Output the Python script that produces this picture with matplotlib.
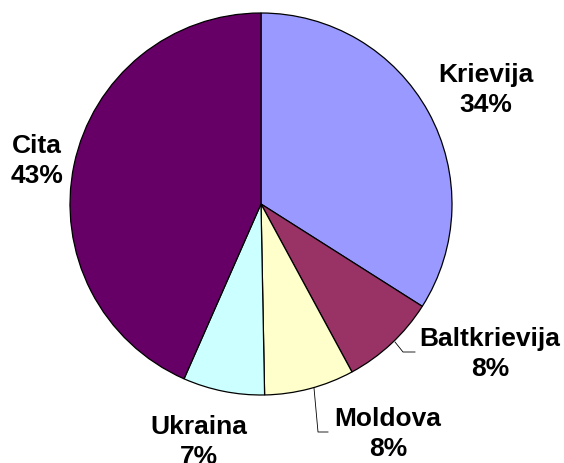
import matplotlib.pyplot as plt

# Pie data (share of total, %)
countries = ["Krievija", "Baltkrievija", "Moldova", "Ukraina", "Cita"]
shares = [34.0, 8.1, 7.6, 6.9, 43.4]
colors = ["#9999FF", "#993366", "#FFFFCC", "#CCFFFF", "#660066"]

W, H = 564, 463
CX, CY, R = 261, 204, 191  # pie centre / radius in pixels


def px(x, y):
    """pixel position -> pie data coords"""
    return (x - CX) / R, (CY - y) / R


plt.rcParams["font.family"] = ["Liberation Sans", "DejaVu Sans"]
fig = plt.figure(figsize=(W / 100, H / 100), dpi=100, facecolor="white")
ax = fig.add_axes([(CX - R) / W, (H - CY - R) / H, 2 * R / W, 2 * R / H])

ax.pie(shares, colors=colors, startangle=90, counterclock=False,
       radius=1.0, wedgeprops=dict(edgecolor="black", linewidth=0.9))
ax.set_xlim(-1, 1)
ax.set_ylim(-1, 1)
ax.set_aspect("equal")
ax.axis("off")

# label positions (pixel centres of the two-line blocks)
label_pos = {
    "Krievija": (486, 90),
    "Baltkrievija": (490, 354),
    "Moldova": (388, 434),
    "Ukraina": (199, 442),
    "Cita": (37, 161),
}
for name, val in zip(countries, shares):
    x, y = px(*label_pos[name])
    ax.text(x, y, f"{name}\n{val:.0f}%", ha="center", va="center",
            fontsize=19, fontweight="bold", linespacing=1.3,
            clip_on=False)

# leader lines
for pts in ([(395, 342), (403, 352), (415, 352)],
            [(314, 388), (318, 432), (328, 432)]):
    xs, ys = zip(*[px(*p) for p in pts])
    ax.plot(xs, ys, color="black", linewidth=0.6, clip_on=False)

fig.savefig("out.png", dpi=100, facecolor="white")
